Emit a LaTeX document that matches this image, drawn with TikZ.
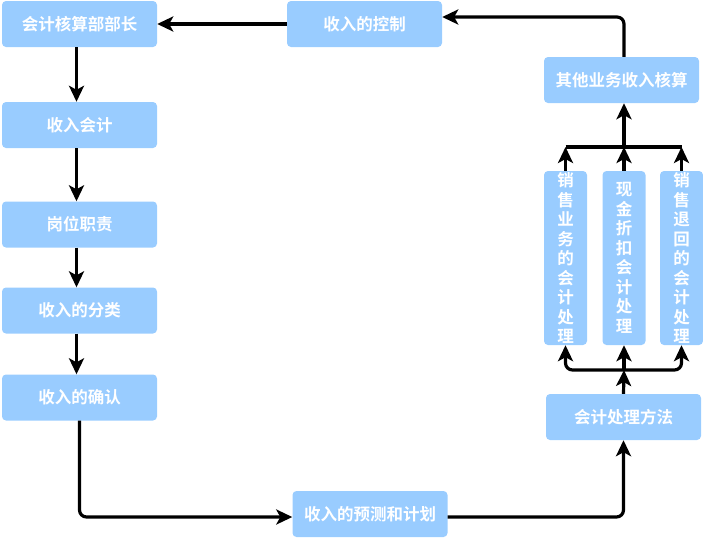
\documentclass[tikz,border=0pt]{standalone}
\usepackage{fontspec}
\newfontfamily\cjk{Noto Sans CJK SC}[BoldFont={Noto Sans CJK SC Bold}]
\usetikzlibrary{arrows.meta}
\definecolor{boxblue}{HTML}{99CCFF}
\tikzset{
  box/.style = {fill=boxblue, rounded corners=4pt, minimum width=155pt, minimum height=46pt,
    text=white, font=\cjk\bfseries\fontsize{16.5}{19}\selectfont},
  vbox/.style = {box, minimum width=43pt, minimum height=174pt, text width=43pt, align=center,
    inner sep=0pt, font=\cjk\bfseries\fontsize{16.5}{19.5}\selectfont},
  arr/.style = {line width=3.2pt, -{Stealth[length=16pt,width=15pt,inset=4pt]}, rounded corners=7pt},
  bus/.style = {line width=3.2pt}
}
\begin{document}
\begin{tikzpicture}[x=1pt, y=-1pt]
        \useasboundingbox (0,0) rectangle (703,539);
        \node[box] (chief) at (79.5,24) {会计核算部部长};
        \node[box] (ctrl) at (364.5,24) {收入的控制};
        \node[box] (acct) at (79.5,125) {收入会计};
        \node[box] (duty) at (79.5,224.5) {岗位职责};
        \node[box] (cls) at (79.5,310.5) {收入的分类};
        \node[box] (conf) at (79.5,397.5) {收入的确认};
        \node[box] (plan) at (370,514) {收入的预测和计划};
        \node[box] (method) at (623.5,417) {会计处理方法};
        \node[box] (other) at (621.5,80) {其他业务收入核算};
        \node[vbox] (sale) at (565.5,258) {销\\售\\业\\务\\的\\会\\计\\处\\理};
        \node[vbox] (disc) at (624,258) {现\\金\\折\\扣\\会\\计\\处\\理};
        \node[vbox] (ret) at (681.5,258) {销\\售\\退\\回\\的\\会\\计\\处\\理};
        \coordinate (lowbus) at (624,370);
        \coordinate (highbus) at (624,147);
        %
        \draw[arr] (ctrl) -- (chief);
        \draw[arr] ([xshift=-3pt]chief.south) -- ([xshift=-3pt]acct.north);
        \draw[arr] ([xshift=-3pt]acct.south) -- ([xshift=-3pt]duty.north);
        \draw[arr] ([xshift=-3pt]duty.south) -- ([xshift=-3pt]cls.north);
        \draw[arr] ([xshift=-3pt]cls.south) -- ([xshift=-3pt]conf.north);
        \draw[arr] (conf.south) |- ([yshift=-3pt]plan.west);
        \draw[arr] ([yshift=-3pt]plan.east) -| (method.south);
        \draw[arr] (method.north) -- (lowbus);
        \draw[arr] (lowbus) -| (sale.south);
        \draw[arr] (lowbus) -| (ret.south);
        \draw[arr] (lowbus) -- (disc.south);
        \draw[arr] (sale.north) -- (sale.north |- highbus);
        \draw[arr] (disc.north) -- (highbus);
        \draw[arr] (ret.north) -- (ret.north |- highbus);
        \draw[bus] (sale.north |- highbus) -- (ret.north |- highbus);
        \draw[arr] (highbus) -- (highbus |- other.south);
        \draw[arr] (highbus |- other.north) |- ([yshift=7pt]ctrl.east);
\end{tikzpicture}
\end{document}
